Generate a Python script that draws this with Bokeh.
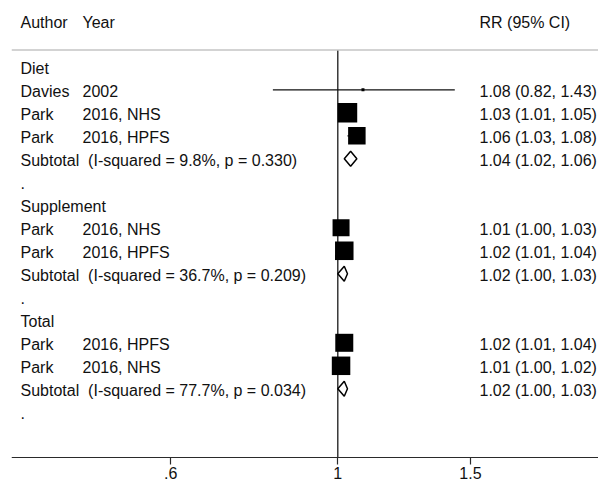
import math

from bokeh.core.properties import value
from bokeh.embed import file_html
from bokeh.models import (ColumnDataSource, CustomJSTickFormatter, FixedTicker,
                          LinearScale, LogAxis, Range1d, Span)
from bokeh.plotting import figure
from bokeh.resources import INLINE

# ---- study-level estimates (risk ratio with 95% CI) ----
groups = ["Diet", "Diet", "Diet", "Supplement", "Supplement", "Total", "Total"]
authors = ["Davies", "Park", "Park", "Park", "Park", "Park", "Park"]
years = ["2002", "2016, NHS", "2016, HPFS", "2016, NHS", "2016, HPFS",
         "2016, HPFS", "2016, NHS"]
rr = [1.08, 1.03, 1.06, 1.01, 1.02, 1.02, 1.01]
rr_lo = [0.82, 1.01, 1.03, 1.00, 1.01, 1.01, 1.00]
rr_hi = [1.43, 1.05, 1.08, 1.03, 1.04, 1.04, 1.02]
weight_box = [3, 19.5, 17.5, 17, 18.5, 18, 18.5]   # box side in px

# ---- pooled estimates per subgroup ----
group_names = ["Diet", "Supplement", "Total"]
sub_rr = [1.04, 1.02, 1.02]
sub_lo = [1.02, 1.00, 1.00]
sub_hi = [1.06, 1.03, 1.03]
i_squared = ["9.8%", "36.7%", "77.7%"]
p_het = ["0.330", "0.209", "0.034"]

# ---- axis ----
tick_vals = [0.6, 1.0, 1.5]

# ---- layout constants (screen pixels) ----
W, H = 598, 484
LEFT = 11
ROW0, ROW_H = 66.3, 23.0
HEADER_Y = 21.8
RULE_Y = 49.5
AXIS_Y = 457
COL_AUTHOR, COL_YEAR, COL_CI = 20, 82, 479
TXT_DY = 1.5
FONT = "Liberation Sans"
FS = "16px"

# x is a log scale: pick the visible range so that RR=1 sits at x=337.3 px
PX_PER_LN = 327.1
X_NULL = 337.3
x_lo = math.exp((LEFT - X_NULL) / PX_PER_LN)
x_hi = math.exp((W - X_NULL) / PX_PER_LN)

p = figure(width=W, height=H, x_axis_type="log",
           x_range=Range1d(x_lo, x_hi), y_range=Range1d(H, 0),
           x_axis_location=None, y_axis_location=None,
           output_backend="svg", toolbar_location=None,
           min_border=0, min_border_left=LEFT)
p.grid.visible = False
p.outline_line_color = None
p.background_fill_color = "white"
p.border_fill_color = "white"

# a plain pixel range for the text columns
p.extra_x_ranges = {"px": Range1d(LEFT, W)}
p.extra_x_scales = {"px": LinearScale()}

# ---- build the rows ----
txt_x, txt_y, txt = [], [], []
study_y = []
dia_xs, dia_ys = [], []

def add_text(x, y, s):
    txt_x.append(x)
    txt_y.append(y)
    txt.append(s)

add_text(COL_AUTHOR, HEADER_Y, "Author")
add_text(COL_YEAR, HEADER_Y, "Year")
add_text(COL_CI, HEADER_Y, "RR (95% CI)")

row = 0
for g, name in enumerate(group_names):
    y = ROW0 + ROW_H * row
    add_text(COL_AUTHOR, y + TXT_DY, name)
    row += 1
    for i in range(len(groups)):
        if groups[i] != name:
            continue
        y = ROW0 + ROW_H * row
        study_y.append(y)
        add_text(COL_AUTHOR, y + TXT_DY, authors[i])
        add_text(COL_YEAR, y + TXT_DY, years[i])
        add_text(COL_CI, y + TXT_DY,
                 f"{rr[i]:.2f} ({rr_lo[i]:.2f}, {rr_hi[i]:.2f})")
        row += 1
    y = ROW0 + ROW_H * row
    add_text(COL_AUTHOR, y + TXT_DY,
             f"Subtotal\u00a0 (I-squared = {i_squared[g]}, p = {p_het[g]})")
    add_text(COL_CI, y + TXT_DY,
             f"{sub_rr[g]:.2f} ({sub_lo[g]:.2f}, {sub_hi[g]:.2f})")
    dia_xs.append([sub_lo[g], sub_rr[g], sub_hi[g], sub_rr[g]])
    dia_ys.append([y, y - 7.5, y, y + 7.5])
    row += 1
    y = ROW0 + ROW_H * row
    add_text(COL_AUTHOR, y + TXT_DY, ".")
    row += 1

# header rule
p.add_layout(Span(location=RULE_Y, dimension="width",
                  line_color="#c4c4c4", line_width=1.3))

# line of no effect
p.segment(x0=[1.0], y0=[RULE_Y], x1=[1.0], y1=[AXIS_Y],
          line_color="#1a1a1a", line_width=1.3)

# confidence intervals and weighted boxes
studies = ColumnDataSource(dict(rr=rr, lo=rr_lo, hi=rr_hi, y=study_y,
                                size=weight_box))
p.segment(x0="lo", y0="y", x1="hi", y1="y", source=studies,
          line_color="#111111", line_width=1.3)
p.scatter(x="rr", y="y", size="size", marker="square", source=studies,
          fill_color="black", line_color=None)

# pooled diamonds
p.patches(xs=dia_xs, ys=dia_ys, fill_color="white", line_color="black",
          line_width=1.5)

# text columns
p.text(x="x", y="y", text="t", source=ColumnDataSource(dict(x=txt_x, y=txt_y, t=txt)),
       x_range_name="px", text_font=value(FONT), text_font_size=FS,
       text_color="#111111", text_baseline="middle", text_align="left")

# x axis drawn at a fixed height inside the frame
ax = LogAxis(fixed_location=AXIS_Y,
             ticker=FixedTicker(ticks=tick_vals, minor_ticks=[]),
             formatter=CustomJSTickFormatter(
                 code="return tick < 1 ? String(tick).replace(/^0/, '') : String(tick)"))
ax.axis_line_color = "#2a2a2a"
ax.axis_line_width = 1.2
ax.major_tick_line_color = "#2a2a2a"
ax.major_tick_line_width = 1.2
ax.major_tick_in = 0
ax.major_tick_out = 7
ax.minor_tick_line_color = None
ax.major_label_standoff = 2
ax.major_label_text_font = FONT
ax.major_label_text_font_size = FS
ax.major_label_text_color = "#111111"
p.add_layout(ax, "below")

open("out.html", "w").write(file_html(p, INLINE))
